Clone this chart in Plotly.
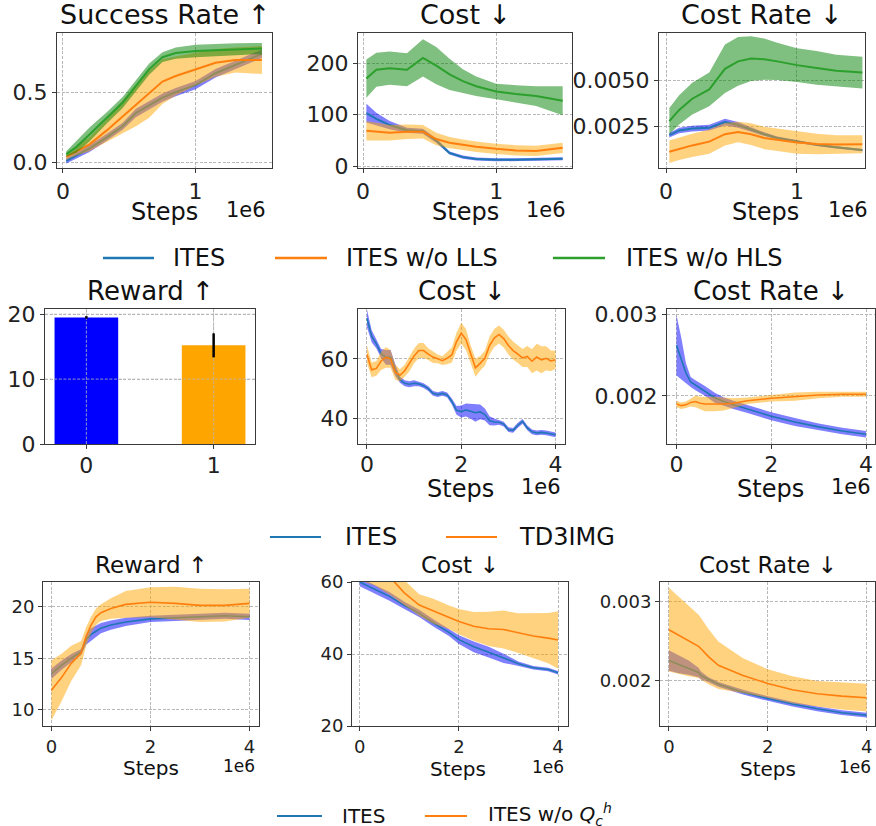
import numpy as np
import plotly.graph_objects as go

W, H = 876, 826
FONT = "DejaVu Sans"

# ---------------- data (steps in units of 1e6) ----------------
# Row 1: ITES / ITES w/o LLS / ITES w/o HLS
r1_steps = [0.025, 0.1, 0.2, 0.33, 0.45, 0.55, 0.65, 0.75, 0.85, 1.0, 1.15, 1.3, 1.5]

sr_ites = [0.012, 0.05, 0.10, 0.18, 0.26, 0.355, 0.41, 0.465, 0.505, 0.555, 0.64, 0.70, 0.78]
sr_ites_sd = [0.02, 0.02, 0.025, 0.025, 0.025, 0.03, 0.03, 0.03, 0.03, 0.03, 0.03, 0.03, 0.03]
sr_lls = [0.04, 0.08, 0.13, 0.23, 0.33, 0.41, 0.49, 0.58, 0.62, 0.67, 0.715, 0.735, 0.735]
sr_lls_sd = [0.02, 0.03, 0.05, 0.08, 0.12, 0.15, 0.17, 0.16, 0.14, 0.12, 0.10, 0.09, 0.10]
sr_hls = [0.06, 0.11, 0.20, 0.32, 0.43, 0.55, 0.67, 0.755, 0.785, 0.80, 0.806, 0.81, 0.818]
sr_hls_sd = [0.02, 0.04, 0.05, 0.04, 0.04, 0.04, 0.04, 0.035, 0.04, 0.045, 0.045, 0.045, 0.04]

c1_ites = [103, 92, 80, 70, 68, 50, 26, 18, 14.5, 13, 13, 14, 15]
c1_ites_sd = [18, 12, 8, 5, 5, 4, 3, 3, 3, 3, 3, 3, 3]
c1_lls = [69, 67, 65, 67, 67, 53, 46, 42, 38, 34, 31, 30, 36]
c1_lls_sd = [19, 17, 15, 14, 13, 12, 11, 10, 10, 10, 10, 10, 10]
c1_hls = [170, 187, 190, 187, 210, 195, 178, 165, 155, 145, 140, 136, 127]
c1_hls_sd = [37, 33, 32, 32, 36, 36, 30, 23, 19, 15, 17, 19, 28]

cr1_ites = [0.00205, 0.0023, 0.0024, 0.00245, 0.00275, 0.0026, 0.00235, 0.0021, 0.0019, 0.0017, 0.00153, 0.0014, 0.00125]
cr1_ites_sd = [0.00012, 0.00015, 0.00015, 0.00015, 0.00018, 0.00015, 0.00012, 0.0001, 0.00008, 0.00007, 0.00006, 0.00006, 0.00006]
cr1_lls = [0.00116, 0.00132, 0.0015, 0.0017, 0.0021, 0.00222, 0.0021, 0.0019, 0.0018, 0.00165, 0.00158, 0.00155, 0.00156]
cr1_lls_sd = [0.0006, 0.0006, 0.00062, 0.00065, 0.0006, 0.00055, 0.00058, 0.0006, 0.0006, 0.0006, 0.00055, 0.0005, 0.00048]
cr1_hls = [0.0028, 0.0034, 0.0040, 0.0045, 0.0056, 0.0060, 0.00615, 0.00612, 0.0060, 0.0058, 0.00565, 0.0055, 0.0054]
cr1_hls_sd = [0.0007, 0.00078, 0.00085, 0.0009, 0.0013, 0.0013, 0.0012, 0.0011, 0.001, 0.0009, 0.0009, 0.00085, 0.00085]

r1_names = ["ITES", "ITES w/o LLS", "ITES w/o HLS"]

# Row 2: ITES / TD3IMG
bar_labels = [0, 1]
bar_reward = [19.5, 15.2]
bar_reward_err = [0.2, 1.85]

r2_steps = [round(0.1 * i, 1) for i in range(41)]
c2_ites = [73.6, 67.6, 65.0, 61.8, 60.5, 60.5, 56.3, 53.0, 51.8, 51.5,
           51.8, 51.6, 51.0, 50.0, 48.4, 48.0, 48.4, 47.9, 45.7, 42.7,
           42.3, 42.8, 42.4, 41.9, 42.2, 41.3, 39.2, 38.8, 38.7, 38.1,
           36.2, 36.0, 37.7, 39.0, 36.8, 35.5, 35.1, 35.3, 35.1, 34.9, 34.5]
c2_ites_sd = [3, 2, 1.5, 1.5, 2.5, 2.5, 2, 1, 1, 1,
              1, 0.8, 0.8, 0.8, 0.8, 0.8, 0.8, 0.8, 1, 1.5,
              2, 2.2, 2.5, 3, 2.5, 2, 1.5, 1.2, 0.8, 0.8,
              0.8, 0.8, 0.8, 0.8, 0.8, 0.8, 0.8, 0.8, 0.8, 0.8, 0.8]
c2_td3 = [61.5, 56.3, 56.8, 59.3, 60.5, 60.0, 55.5, 54.5, 56.0, 58.3,
          61.0, 62.8, 62.8, 61.6, 60.6, 60.0, 59.4, 60.2, 61.3, 65.8,
          68.6, 66.5, 61.5, 57.0, 58.5, 60.2, 64.5, 67.0, 68.2, 66.8,
          64.5, 62.8, 61.6, 60.3, 60.8, 59.2, 60.6, 59.7, 60.2, 59.3, 59.7]
c2_td3_sd = [3, 2.5, 2.5, 3, 3.5, 3, 2.5, 2, 2, 2.5,
             2.5, 2.5, 2.5, 2, 2, 1.5, 1.5, 2, 2.5, 3,
             3.5, 3.5, 3, 3, 2.5, 2.5, 3, 3, 3, 3,
             3, 3, 3, 3, 3.5, 4, 4.5, 4.5, 4, 3.5, 3]

r2b_steps = [0, 0.1, 0.2, 0.3, 0.4, 0.5, 0.6, 0.8, 1.0, 1.2, 1.5, 2.0, 2.5, 3.0, 3.5, 4.0]
cr2_ites = [0.00262, 0.00246, 0.00228, 0.00217, 0.00213, 0.00210, 0.00206, 0.00198, 0.00193, 0.00189, 0.00184, 0.00175, 0.00168, 0.00162, 0.00157, 0.00153]
cr2_ites_sd = [0.00037, 0.00026, 0.00012, 0.00006, 0.00006, 0.00006, 0.00006, 0.00006, 0.00005, 0.00005, 0.00005, 0.00005, 0.00005, 0.00004, 0.00004, 0.00004]
cr2_td3 = [0.00190, 0.00188, 0.00189, 0.00192, 0.00193, 0.00191, 0.00190, 0.00190, 0.00190, 0.00191, 0.00194, 0.00197, 0.00199, 0.00201, 0.00202, 0.00202]
cr2_td3_sd = [0.00004, 0.00004, 0.00004, 0.00005, 0.00007, 0.00008, 0.00009, 0.00009, 0.00008, 0.00006, 0.00004, 0.00004, 0.00005, 0.00004, 0.00003, 0.00003]

r2_names = ["ITES", "TD3IMG"]

# Row 3: ITES / ITES w/o Q_c^h
r3a_steps = [0, 0.2, 0.4, 0.6, 0.7, 0.8, 0.9, 1.0, 1.2, 1.5, 2.0, 2.5, 3.0, 3.5, 4.0]
rw3_ites = [13.5, 14.3, 15.0, 15.6, 16.8, 17.3, 17.6, 17.9, 18.2, 18.5, 18.8, 18.9, 19.0, 19.1, 19.0]
rw3_ites_sd = [0.5, 0.45, 0.4, 0.3, 0.5, 0.6, 0.55, 0.5, 0.45, 0.4, 0.3, 0.3, 0.3, 0.3, 0.3]
rw3_noq = [11.9, 13.1, 14.5, 15.5, 17.1, 18.2, 19.0, 19.4, 19.8, 20.2, 20.4, 20.3, 20.1, 20.1, 20.3]
rw3_noq_sd = [2.9, 2.3, 1.7, 1.15, 0.9, 0.8, 0.8, 0.8, 1.0, 1.3, 1.45, 1.6, 1.6, 1.55, 1.4]

r3b_steps = [0, 0.3, 0.6, 0.9, 1.2, 1.5, 1.8, 2.0, 2.3, 2.6, 2.9, 3.2, 3.5, 3.8, 4.0]
c3_ites = [60, 58, 56, 53.5, 51.3, 48.5, 46, 44, 42, 40.5, 38.8, 37.3, 36.2, 35.7, 34.8]
c3_ites_sd = [1.2, 1.2, 1.2, 1.0, 1.0, 1.0, 1.0, 1.2, 1.5, 1.5, 1.3, 0.6, 0.5, 0.5, 0.5]
c3_noq = [68, 65, 61.5, 57, 53.6, 51.8, 50.2, 49, 47.7, 47, 46.8, 45.8, 45.0, 44.4, 43.9]
c3_noq_sd = [7.5, 6, 5, 3.5, 3, 3.5, 3.25, 3.5, 4, 4.75, 5.25, 5.5, 6.25, 7, 8]

r3c_steps = [0, 0.2, 0.4, 0.6, 0.65, 0.8, 1.0, 1.5, 2.0, 2.5, 3.0, 3.5, 4.0]
cr3_ites = [0.00225, 0.0022, 0.00216, 0.0021, 0.00206, 0.00201, 0.00195, 0.00185, 0.00177, 0.0017, 0.00164, 0.00159, 0.00156]
cr3_ites_sd = [0.00013, 0.00011, 0.00009, 0.00006, 0.00005, 0.00003, 0.00003, 0.00003, 0.00003, 0.00003, 0.00003, 0.00003, 0.00003]
cr3_noq = [0.00264, 0.00257, 0.0025, 0.00243, 0.0024, 0.0023, 0.00219, 0.00206, 0.00196, 0.00188, 0.00183, 0.0018, 0.00178]
cr3_noq_sd = [0.00053, 0.00049, 0.00045, 0.0004, 0.00039, 0.00035, 0.0003, 0.00022, 0.00018, 0.00017, 0.00016, 0.00017, 0.000175]

r3_names = ["ITES", "ITES w/o <i>Q</i><sub><i>c</i></sub><sup><i>h</i></sup>"]

# ---------------- styling ----------------
LINE = {"b": "#1f77b4", "o": "#ff7f0e", "g": "#2ca02c"}
FILL = {"b": "rgba(0,0,255,0.5)", "o": "rgba(255,165,0,0.5)", "g": "rgba(0,128,0,0.5)"}
GRID = "#b8b8b8"
GDASH = "3px,1.6px"

fig = go.Figure()


def band(i, x, m, s, c, lw):
    m = np.asarray(m, float)
    s = np.asarray(s, float)
    xa, ya = f"x{i}", f"y{i}"
    fig.add_trace(go.Scatter(x=x, y=m + s, mode="lines", line=dict(width=0, color=FILL[c]),
                             xaxis=xa, yaxis=ya, showlegend=False, hoverinfo="skip"))
    fig.add_trace(go.Scatter(x=x, y=m - s, mode="lines", line=dict(width=0, color=FILL[c]),
                             fill="tonexty", fillcolor=FILL[c],
                             xaxis=xa, yaxis=ya, showlegend=False, hoverinfo="skip"))
    fig.add_trace(go.Scatter(x=x, y=m, mode="lines", line=dict(width=lw, color=LINE[c]),
                             xaxis=xa, yaxis=ya, showlegend=False))


# pixel boxes (left, right, top, bottom)
boxes = {
    1: (57, 272, 33, 168), 2: (358, 572, 33, 168), 3: (659, 865, 33, 168),
    4: (45, 255, 309, 444), 5: (358, 565, 309, 444), 6: (667, 875, 309, 444),
    7: (43, 259, 582, 726), 8: (352, 568, 582, 726), 9: (660, 875, 582, 726),
}
xr = {1: [-0.045, 1.576], 2: [-0.038, 1.57], 3: [-0.054, 1.52],
      4: [-0.325, 1.325], 5: [-0.19, 4.2], 6: [-0.2, 4.19],
      7: [-0.17, 4.19], 8: [-0.155, 4.2], 9: [-0.18, 4.17]}
yr = {1: [-0.04, 0.929], 2: [-3, 258], 3: [0.00029, 0.00752],
      4: [0, 20.8], 5: [31.4, 76.75], 6: [0.00141, 0.003065],
      7: [8.45, 22.36], 8: [20, 60], 9: [0.001422, 0.003244]}
xt = {1: [0, 1], 2: [0, 1], 3: [0, 1], 4: [0, 1], 5: [0, 2, 4], 6: [0, 2, 4],
      7: [0, 2, 4], 8: [0, 2, 4], 9: [0, 2, 4]}
yt = {1: ([0, 0.5], ".1f"), 2: ([0, 100, 200], "d"), 3: ([0.0025, 0.005], ".4f"),
      4: ([0, 10, 20], "d"), 5: ([40, 60], "d"), 6: ([0.002, 0.003], ".3f"),
      7: ([10, 15, 20], "d"), 8: ([20, 40, 60], "d"), 9: ([0.002, 0.003], ".3f")}
tick_size = {1: 22, 2: 22, 3: 22, 4: 22, 5: 22, 6: 22, 7: 18, 8: 18, 9: 18}
x_standoff = {1: 0, 2: 0, 3: 0, 4: -2, 5: -3, 6: -3, 7: 0, 8: 0, 9: 0}

# Row 1
band(1, r1_steps, sr_ites, sr_ites_sd, "b", 2)
band(1, r1_steps, sr_lls, sr_lls_sd, "o", 2)
band(1, r1_steps, sr_hls, sr_hls_sd, "g", 2)
band(2, r1_steps, c1_ites, c1_ites_sd, "b", 2)
band(2, r1_steps, c1_lls, c1_lls_sd, "o", 2)
band(2, r1_steps, c1_hls, c1_hls_sd, "g", 2)
band(3, r1_steps, cr1_ites, cr1_ites_sd, "b", 2)
band(3, r1_steps, cr1_lls, cr1_lls_sd, "o", 2)
band(3, r1_steps, cr1_hls, cr1_hls_sd, "g", 2)

# Row 2: bars, then grid drawn over bars (matplotlib style), then error bars
fig.add_trace(go.Bar(x=bar_labels, y=bar_reward, width=0.5,
                     marker=dict(color=["#0000ff", "#ffa500"], line=dict(width=0)),
                     xaxis="x4", yaxis="y4", showlegend=False))
for gx in xt[4]:
    fig.add_trace(go.Scatter(x=[gx, gx], y=yr[4], mode="lines",
                             line=dict(color=GRID, width=0.8, dash=GDASH),
                             xaxis="x4", yaxis="y4", showlegend=False, hoverinfo="skip"))
for gy in [10, 20]:
    fig.add_trace(go.Scatter(x=xr[4], y=[gy, gy], mode="lines",
                             line=dict(color=GRID, width=0.8, dash=GDASH),
                             xaxis="x4", yaxis="y4", showlegend=False, hoverinfo="skip"))
fig.add_trace(go.Scatter(x=bar_labels, y=bar_reward, mode="markers", marker=dict(size=1, opacity=0),
                         error_y=dict(type="data", array=bar_reward_err, color="black", thickness=2.5, width=0),
                         xaxis="x4", yaxis="y4", showlegend=False))

band(5, r2_steps, c2_ites, c2_ites_sd, "b", 1.6)
band(5, r2_steps, c2_td3, c2_td3_sd, "o", 1.6)
band(6, r2b_steps, cr2_ites, cr2_ites_sd, "b", 1.6)
band(6, r2b_steps, cr2_td3, cr2_td3_sd, "o", 1.6)

# Row 3
band(7, r3a_steps, rw3_ites, rw3_ites_sd, "b", 1.6)
band(7, r3a_steps, rw3_noq, rw3_noq_sd, "o", 1.6)
band(8, r3b_steps, c3_ites, c3_ites_sd, "b", 1.6)
band(8, r3b_steps, c3_noq, c3_noq_sd, "o", 1.6)
band(9, r3c_steps, cr3_ites, cr3_ites_sd, "b", 1.6)
band(9, r3c_steps, cr3_noq, cr3_noq_sd, "o", 1.6)

# ---------------- axes ----------------
common = dict(showgrid=True, griddash=GDASH, gridcolor=GRID, gridwidth=0.8,
              showline=True, mirror=True, linecolor="#3a3a3a", linewidth=1.1,
              ticks="outside", ticklen=4, tickwidth=1, tickcolor="#3a3a3a",
              zeroline=False, layer="above traces", automargin=False)

for i, (l, r, t, b) in boxes.items():
    fs = tick_size[i]
    fig.update_layout(**{
        f"xaxis{i}": dict(domain=[l / W, r / W], anchor=f"y{i}", range=xr[i],
                          tickmode="array", tickvals=xt[i], ticktext=[str(v) for v in xt[i]],
                          ticklabelstandoff=x_standoff[i],
                          tickfont=dict(family=FONT, size=fs, color="#222"), **common),
        f"yaxis{i}": dict(domain=[1 - b / H, 1 - t / H], anchor=f"x{i}", range=yr[i],
                          tickmode="array", tickvals=yt[i][0], tickformat=yt[i][1],
                          tickfont=dict(family=FONT, size=fs, color="#222"), **common),
    })

# ---------------- text ----------------
ann = []


def text(x, y, s, size, xanchor="center", yanchor="middle"):
    ann.append(dict(x=x / W, y=1 - y / H, xref="paper", yref="paper", text=s, showarrow=False,
                    xanchor=xanchor, yanchor=yanchor,
                    font=dict(family=FONT, size=size, color="#111")))


titles = {1: "Success Rate ↑", 2: "Cost ↓", 3: "Cost Rate ↓",
          4: "Reward ↑", 5: "Cost ↓", 6: "Cost Rate ↓",
          7: "Reward ↑", 8: "Cost ↓", 9: "Cost Rate ↓"}
title_y = {1: 15, 2: 15, 3: 15, 4: 291, 5: 291, 6: 291, 7: 565, 8: 565, 9: 565}
title_size = {1: 27, 2: 27, 3: 27, 4: 26, 5: 26, 6: 26, 7: 23, 8: 23, 9: 23}
for i, s in titles.items():
    l, r, t, b = boxes[i]
    text((l + r) / 2, title_y[i], s, title_size[i])

# x labels and offset text
xl = {1: (164, 212, 268), 2: (465, 212, 568), 3: (765, 212, 870),
      5: (460, 489, 563), 6: (770, 489, 873),
      7: (151, 768, 257), 8: (458, 769, 566), 9: (768, 769, 873)}
for i, (cx, cy, rx) in xl.items():
    sz = 24 if i < 7 else 20
    text(cx, cy, "Steps", sz)
    text(rx, cy - 2, "1e6", sz - 3, xanchor="right")

# legends
shapes = []


def leg_line(x0, x1, y, c, w):
    shapes.append(dict(type="line", xref="paper", yref="paper", x0=x0 / W, x1=x1 / W,
                       y0=1 - y / H, y1=1 - y / H, line=dict(color=LINE[c], width=w)))


leg_line(103, 154, 258, "b", 2.5)
leg_line(275, 327, 258, "o", 2.5)
leg_line(553, 605, 258, "g", 2.5)
text(171, 258, r1_names[0], 24, xanchor="left")
text(344, 258, r1_names[1], 24, xanchor="left")
text(624, 258, r1_names[2], 24, xanchor="left")

leg_line(270, 321, 537, "b", 2)
leg_line(446, 497, 537, "o", 2)
text(343, 537, r2_names[0], 24, xanchor="left")
text(517, 537, r2_names[1], 24, xanchor="left")

leg_line(277, 322, 816, "b", 2)
leg_line(425, 467, 816, "o", 2)
text(340, 816, r3_names[0], 20, xanchor="left")
text(486, 814, r3_names[1], 20, xanchor="left")

fig.update_layout(width=W, height=H, autosize=False,
                  margin=dict(l=0, r=0, t=0, b=0, pad=0),
                  paper_bgcolor="white", plot_bgcolor="white",
                  showlegend=False, annotations=ann, shapes=shapes,
                  font=dict(family=FONT))

fig.write_html("out.html", config={"displayModeBar": False},
               post_script="document.body.style.margin='0';")
